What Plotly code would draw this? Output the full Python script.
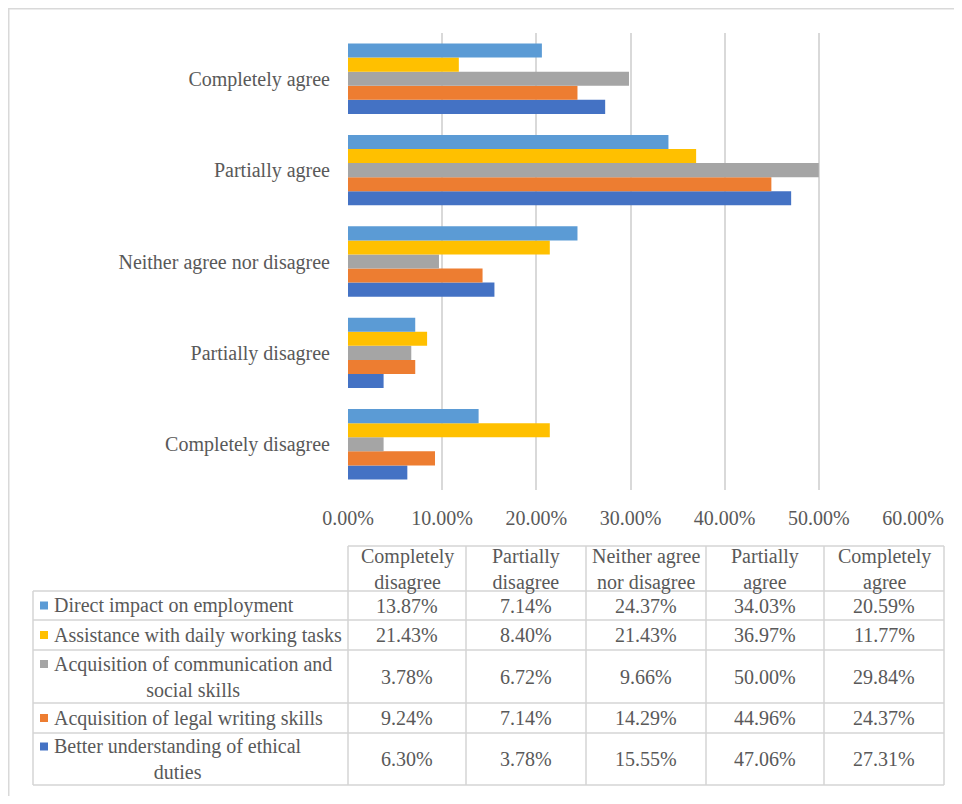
import plotly.graph_objects as go

categories = ["Completely disagree", "Partially disagree", "Neither agree nor disagree",
              "Partially agree", "Completely agree"]
header_labels = ["Completely<br>disagree", "Partially<br>disagree", "Neither agree<br>nor disagree",
                 "Partially<br>agree", "Completely<br>agree"]

series_names = ["Direct impact on employment",
                "Assistance with daily working tasks",
                "Acquisition of communication and social skills",
                "Acquisition of legal writing skills",
                "Better understanding of ethical duties"]
table_names = ["Direct impact on employment",
               "Assistance with daily working tasks",
               "Acquisition of communication and<br>social skills",
               "Acquisition of legal writing skills",
               "Better understanding of ethical<br>duties"]

direct = [13.87, 7.14, 24.37, 34.03, 20.59]
assistance = [21.43, 8.40, 21.43, 36.97, 11.77]
communication = [3.78, 6.72, 9.66, 50.00, 29.84]
legal = [9.24, 7.14, 14.29, 44.96, 24.37]
ethical = [6.30, 3.78, 15.55, 47.06, 27.31]

colors = ["#5B9BD5", "#FFC000", "#A5A5A5", "#ED7D31", "#4472C4"]
series_values = [direct, assistance, communication, legal, ethical]

W, H = 946, 788
TXT = "#595959"
FONT = "Liberation Serif, Times New Roman, serif"
GRID = "#D9D9D9"
TLINE = "#D4D4D4"
FS = 20

fig = go.Figure()
# plotly draws first trace at the bottom of each group -> add in reverse order
for name, vals, col in reversed(list(zip(series_names, series_values, colors))):
    fig.add_trace(go.Bar(
        y=categories, x=[v / 100 for v in vals], orientation="h", name=name,
        marker=dict(color=col, line=dict(width=0)), showlegend=False,
    ))

# ---- data table (layout in figure pixels) ----
col_edges = [25, 340, 458, 578, 698, 816, 936]
row_edges = [538, 583, 612, 642, 695, 725, 777]


def px(x):
    return x / W


def py(y):
    return 1 - y / H


shapes = []
annotations = []
line = dict(color=TLINE, width=1.5)
# horizontal lines
shapes.append(dict(type="line", xref="paper", yref="paper", x0=px(col_edges[1]), x1=px(col_edges[-1]),
                   y0=py(row_edges[0]), y1=py(row_edges[0]), line=line))
for y in row_edges[1:]:
    shapes.append(dict(type="line", xref="paper", yref="paper", x0=px(col_edges[0]), x1=px(col_edges[-1]),
                       y0=py(y), y1=py(y), line=line))
# vertical lines
shapes.append(dict(type="line", xref="paper", yref="paper", x0=px(col_edges[0]), x1=px(col_edges[0]),
                   y0=py(row_edges[1]), y1=py(row_edges[-1]), line=line))
for x in col_edges[1:]:
    shapes.append(dict(type="line", xref="paper", yref="paper", x0=px(x), x1=px(x),
                       y0=py(row_edges[0]), y1=py(row_edges[-1]), line=line))

# header
for k, lab in enumerate(header_labels):
    cx = (col_edges[k + 1] + col_edges[k + 2]) / 2
    cy = (row_edges[0] + row_edges[1]) / 2 + 1
    annotations.append(dict(text=lab, x=px(cx), y=py(cy), xref="paper", yref="paper",
                            xanchor="center", yanchor="middle", align="center", showarrow=False,
                            font=dict(family=FONT, size=FS, color=TXT)))
# rows
for s in range(5):
    y0, y1 = row_edges[s + 1], row_edges[s + 2]
    cy = (y0 + y1) / 2
    nlines = table_names[s].count("<br>") + 1
    # legend key square, aligned with first text line
    ky = cy - (nlines - 1) * 12.5
    shapes.append(dict(type="rect", xref="paper", yref="paper", x0=px(32), x1=px(40),
                       y0=py(ky - 4), y1=py(ky + 4), line=dict(width=0), fillcolor=colors[s]))
    annotations.append(dict(text=table_names[s], x=px(44), y=py(cy), xref="paper", yref="paper",
                            xanchor="left", yanchor="middle", align="center", showarrow=False,
                            font=dict(family=FONT, size=FS, color=TXT)))
    for k in range(5):
        cx = (col_edges[k + 1] + col_edges[k + 2]) / 2
        annotations.append(dict(text=f"{series_values[s][k]:.2f}%", x=px(cx), y=py(cy),
                                xref="paper", yref="paper", xanchor="center", yanchor="middle",
                                showarrow=False, font=dict(family=FONT, size=FS, color=TXT)))

# outer frame (only top and left edges are visible in the crop)
frame = dict(color="#D9D9D9", width=1.5)
shapes.append(dict(type="line", xref="paper", yref="paper", x0=0, x1=1, y0=0.999, y1=0.999,
                   line=frame, layer="below"))
shapes.append(dict(type="line", xref="paper", yref="paper", x0=0.0008, x1=0.0008, y0=0, y1=1,
                   line=frame, layer="below"))

fig.update_layout(
    width=W, height=H,
    margin=dict(l=0, r=0, t=0, b=0, autoexpand=False),
    paper_bgcolor="white", plot_bgcolor="white",
    barmode="group", bargap=0.23, bargroupgap=0,
    font=dict(family=FONT, size=FS, color=TXT),
    xaxis=dict(domain=[340 / W, 905 / W], range=[0, 0.6], dtick=0.1, tickformat=".2%",
               showgrid=True, gridcolor=GRID, gridwidth=1.5, zeroline=False, automargin=False,
               showline=False, ticks="", ticklabelstandoff=14,
               tickfont=dict(family=FONT, size=FS, color=TXT)),
    yaxis=dict(domain=[306 / H, 763 / H], categoryorder="array", categoryarray=categories,
               showgrid=False, zeroline=False, showline=False, ticks="", ticklabelstandoff=17,
               automargin=False, tickfont=dict(family=FONT, size=FS, color=TXT)),
    shapes=shapes,
    annotations=annotations,
)

fig.write_html("out.html")
